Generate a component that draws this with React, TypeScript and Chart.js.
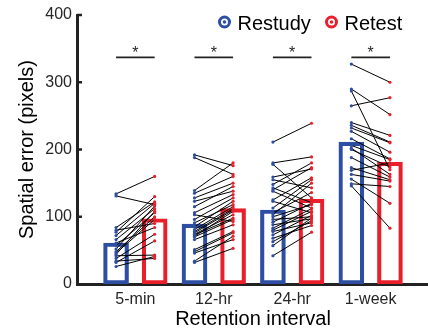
import React, { useEffect, useRef } from 'react';
import { Chart, registerables } from 'chart.js';

Chart.register(...registerables);

const categories = ['5-min', '12-hr', '24-hr', '1-week'];
const restudyMean = [61, 89, 110, 211];
const retestMean = [97, 112, 126, 181];

// individual participants (restudy -> retest pairs), per retention interval
const restudy5 = [134, 131, 84, 80, 77, 72, 66, 61, 57, 52, 48, 46, 44, 42, 38, 34, 32, 26];
const retest5 = [160, 118, 122, 90, 130, 120, 112, 84, 106, 116, 100, 96, 108, 43, 74, 38, 64, 41];

const restudy12 = [192, 188, 139, 135, 128, 123, 115, 106, 103, 96, 91, 85, 81, 78, 76, 74, 73, 71, 70, 66, 51, 48, 46, 34, 32];
const retest12 = [176, 163, 180, 160, 150, 138, 145, 133, 93, 128, 118, 123, 115, 112, 110, 103, 98, 108, 96, 88, 78, 76, 66, 71, 53];

const restudy24 = [211, 180, 178, 159, 155, 148, 143, 140, 138, 125, 123, 113, 106, 103, 100, 96, 92, 88, 83, 80, 78, 73, 68, 63, 57, 42];
const retest24 = [239, 189, 128, 171, 143, 180, 121, 173, 113, 158, 106, 155, 136, 150, 118, 100, 120, 97, 112, 108, 91, 102, 87, 94, 98, 77];

const restudy1w = [327, 290, 287, 265, 240, 236, 232, 227, 216, 206, 202, 200, 188, 173, 169, 163, 156, 149, 146];
const retest1w = [300, 252, 170, 277, 221, 211, 210, 196, 186, 185, 163, 174, 159, 155, 180, 153, 120, 145, 83];

const restudyGroups = [restudy5, restudy12, restudy24, restudy1w];
const retestGroups = [retest5, retest12, retest24, retest1w];

const yTickValues = [100, 200, 300, 400];
const sigLevel = 337;
const sigLabels = ['*', '*', '*', '*'];
const legendLabels = ['Restudy', 'Retest'];

const BLUE = '#2d4ea3';
const RED = '#e9202b';
const AXIS = '#222222';
const TEXT = '#262626';
const OFF = 0.246;
const FONT = "'Liberation Sans', Arial, Helvetica, sans-serif";

export default function App() {
  const ref = useRef<HTMLCanvasElement | null>(null);

  useEffect(() => {
    if (!ref.current) return;
    Chart.defaults.font.family = FONT;

    const pairData: any[] = [];
    const pairColors: string[] = [];
    restudyGroups.forEach((grp, gi) => {
      grp.forEach((v, k) => {
        pairData.push({ x: gi + 1 - OFF, y: v });
        pairColors.push(BLUE);
        pairData.push({ x: gi + 1 + OFF, y: retestGroups[gi][k] });
        pairColors.push(RED);
        pairData.push({ x: gi + 1, y: null });
        pairColors.push('rgba(0,0,0,0)');
      });
    });

    const sigData: any[] = [];
    categories.forEach((_, i) => {
      sigData.push({ x: i + 1 - OFF, y: sigLevel });
      sigData.push({ x: i + 1 + OFF, y: sigLevel });
      sigData.push({ x: i + 1, y: null });
    });

    const overlay = {
      id: 'overlay',
      afterDraw(chart: any) {
        const ctx = chart.ctx;
        const xs = chart.scales.x;
        const ys = chart.scales.y;
        const area = chart.chartArea;
        ctx.save();
        // inward y ticks
        ctx.strokeStyle = AXIS;
        ctx.lineWidth = 2.5;
        yTickValues.forEach((v) => {
          const y = ys.getPixelForValue(v);
          ctx.beginPath();
          ctx.moveTo(area.left, y);
          ctx.lineTo(area.left + 5, y);
          ctx.stroke();
        });
        // stars
        ctx.fillStyle = TEXT;
        ctx.font = `16px ${FONT}`;
        ctx.textAlign = 'center';
        ctx.textBaseline = 'alphabetic';
        sigLabels.forEach((s, i) => {
          const x = xs.getPixelForValue(i + 1);
          const y = ys.getPixelForValue(sigLevel) + 1;
          ctx.fillText(s, x, y);
        });
        // legend
        const items = [
          { label: legendLabels[0], color: BLUE, x: 224.5 },
          { label: legendLabels[1], color: RED, x: 331.5 },
        ];
        items.forEach((it) => {
          const cy = 22;
          ctx.beginPath();
          ctx.arc(it.x, cy, 5, 0, Math.PI * 2);
          ctx.fillStyle = '#ffffff';
          ctx.fill();
          ctx.lineWidth = 3;
          ctx.strokeStyle = it.color;
          ctx.stroke();
          ctx.beginPath();
          ctx.arc(it.x, cy, 1.8, 0, Math.PI * 2);
          ctx.fillStyle = it.color;
          ctx.fill();
          ctx.fillStyle = '#000000';
          ctx.font = `20px ${FONT}`;
          ctx.textAlign = 'left';
          ctx.textBaseline = 'alphabetic';
          ctx.fillText(it.label, it.x + 13, 29.5);
        });
        ctx.restore();
      },
    };

    const chart = new Chart(ref.current, {
      type: 'bar',
      data: {
        datasets: [
          {
            type: 'line',
            label: 'sig',
            data: sigData,
            borderColor: AXIS,
            borderWidth: 1.6,
            pointRadius: 0,
            spanGaps: false,
            order: 0,
          } as any,
          {
            type: 'line',
            label: 'pairs',
            data: pairData,
            borderColor: '#000000',
            borderWidth: 1,
            pointRadius: 1.6,
            pointBackgroundColor: pairColors,
            pointBorderColor: pairColors,
            pointBorderWidth: 0,
            spanGaps: false,
            order: 1,
          } as any,
          {
            type: 'bar',
            label: 'Restudy',
            data: restudyMean.map((v, i) => ({ x: i + 1 - OFF, y: v })),
            backgroundColor: 'rgba(0,0,0,0)',
            borderColor: BLUE,
            borderWidth: 3.5,
            borderSkipped: false,
            barThickness: 25,
            grouped: false,
            order: 2,
          } as any,
          {
            type: 'bar',
            label: 'Retest',
            data: retestMean.map((v, i) => ({ x: i + 1 + OFF, y: v })),
            backgroundColor: 'rgba(0,0,0,0)',
            borderColor: RED,
            borderWidth: 3.5,
            borderSkipped: false,
            barThickness: 25,
            grouped: false,
            order: 2,
          } as any,
        ],
      },
      options: {
        responsive: false,
        animation: false,
        events: [],
        layout: { padding: { top: 15, right: 0, bottom: 0, left: 0 } },
        plugins: { legend: { display: false }, tooltip: { enabled: false } },
        scales: {
          x: {
            type: 'linear',
            offset: false,
            min: 0.256,
            max: 4.744,
            afterBuildTicks: (s: any) => {
              s.ticks = categories.map((_, i) => ({ value: i + 1 }));
            },
            afterFit: (s: any) => {
              s.height = 48;
            },
            ticks: {
              autoSkip: false,
              maxRotation: 0,
              padding: 6,
              color: TEXT,
              font: { size: 16 },
              callback: (v: any) => categories[Math.round(Number(v)) - 1] ?? '',
            },
            grid: { display: false, drawTicks: false, tickLength: 0 },
            border: { display: true, width: 3, color: AXIS },
            title: {
              display: true,
              text: 'Retention interval',
              color: '#000000',
              font: { size: 20 },
              padding: { top: 0, bottom: 1 },
            },
          },
          y: {
            type: 'linear',
            min: 0,
            max: 400,
            afterFit: (s: any) => {
              s.width = 77;
            },
            ticks: { stepSize: 100, padding: 5, color: TEXT, font: { size: 16 } },
            grid: { display: false, drawTicks: false, tickLength: 0 },
            border: { display: true, width: 3, color: AXIS },
            title: {
              display: true,
              text: 'Spatial error (pixels)',
              color: '#000000',
              font: { size: 20 },
              padding: { top: 15, bottom: 0 },
            },
          },
        },
      } as any,
      plugins: [overlay],
    });
    return () => chart.destroy();
  }, []);

  return (
    <div
      style={{
        position: 'fixed',
        left: 0,
        top: 0,
        width: 428,
        height: 332,
        overflow: 'hidden',
        background: '#ffffff',
      }}
    >
      <canvas ref={ref} width={433} height={332} style={{ display: 'block' }} />
    </div>
  );
}
